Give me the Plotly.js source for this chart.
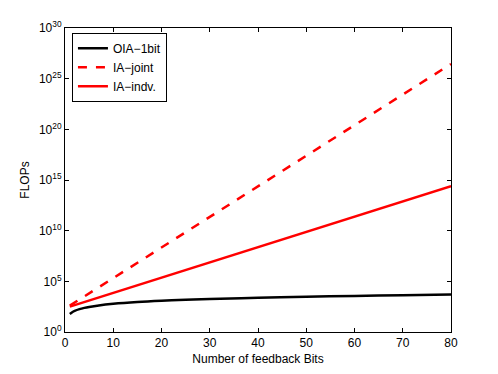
<!DOCTYPE html>
<html>
<head>
<meta charset="utf-8">
<script src="https://cdn.plot.ly/plotly-3.0.1.min.js"></script>
<style>
  html, body { margin: 0; padding: 0; background: #fff; }
  #chart { width: 498px; height: 374px; }
</style>
</head>
<body>
<div id="chart"></div>
<script>
// feedback bits vs FLOPs
const bitsOia = [1, 1.5, 2, 3, 4, 5, 7, 10, 15, 20, 25, 30, 40, 50, 60, 70, 80];
const flopsOia = [60, 90, 120, 180, 240, 300, 420, 600, 900, 1200, 1500, 1800, 2400, 3000, 3600, 4200, 4900];

const bitsIa = [1, 80];
const flopsJoint = [400, 2.8e26];
const flopsIndv = [320, 2.5e14];

const yTickVals = [1, 1e5, 1e10, 1e15, 1e20, 1e25, 1e30];
const yTickText = ['10<sup>0</sup>', '10<sup>5</sup>', '10<sup>10</sup>', '10<sup>15</sup>',
  '10<sup>20</sup>', '10<sup>25</sup>', '10<sup>30</sup>'];

const traces = [
  {
    x: bitsOia, y: flopsOia, mode: 'lines', type: 'scatter',
    name: 'OIA\u22121bit', line: { color: 'black', width: 2.5, shape: 'spline' }
  },
  {
    x: bitsIa, y: flopsJoint, mode: 'lines', type: 'scatter',
    name: 'IA\u2212joint', line: { color: 'red', width: 2.5, dash: 'dash' }
  },
  {
    x: bitsIa, y: flopsIndv, mode: 'lines', type: 'scatter',
    name: 'IA\u2212indv.', line: { color: 'red', width: 2.5 }
  }
];

const layout = {
  width: 498, height: 374,
  margin: { l: 65, r: 47, t: 28, b: 42 },
  paper_bgcolor: 'white', plot_bgcolor: 'white',
  font: { family: 'Liberation Sans, Arial, sans-serif', size: 12, color: 'black' },
  showlegend: true,
  legend: {
    x: 0.018, y: 0.984, xanchor: 'left', yanchor: 'top',
    bgcolor: 'white', bordercolor: 'black', borderwidth: 1,
    font: { size: 12 }, tracegroupgap: 0, itemwidth: 30
  },
  xaxis: {
    range: [0, 80], dtick: 10, showgrid: false, zeroline: false,
    ticks: 'inside', ticklen: 4, tickcolor: 'black',
    showline: true, linecolor: 'black', linewidth: 1, mirror: 'ticks',
    title: { text: 'Number of feedback Bits', standoff: 5, font: { size: 12 } }
  },
  yaxis: {
    type: 'log', range: [0, 30], showgrid: false, zeroline: false,
    tickvals: yTickVals, ticktext: yTickText,
    ticks: 'inside', ticklen: 4, tickcolor: 'black',
    showline: true, linecolor: 'black', linewidth: 1, mirror: 'ticks',
    title: { text: 'FLOPs', standoff: 6, font: { size: 12 } }
  }
};

Plotly.newPlot('chart', traces, layout, { displayModeBar: false, staticPlot: true });
</script>
</body>
</html>
